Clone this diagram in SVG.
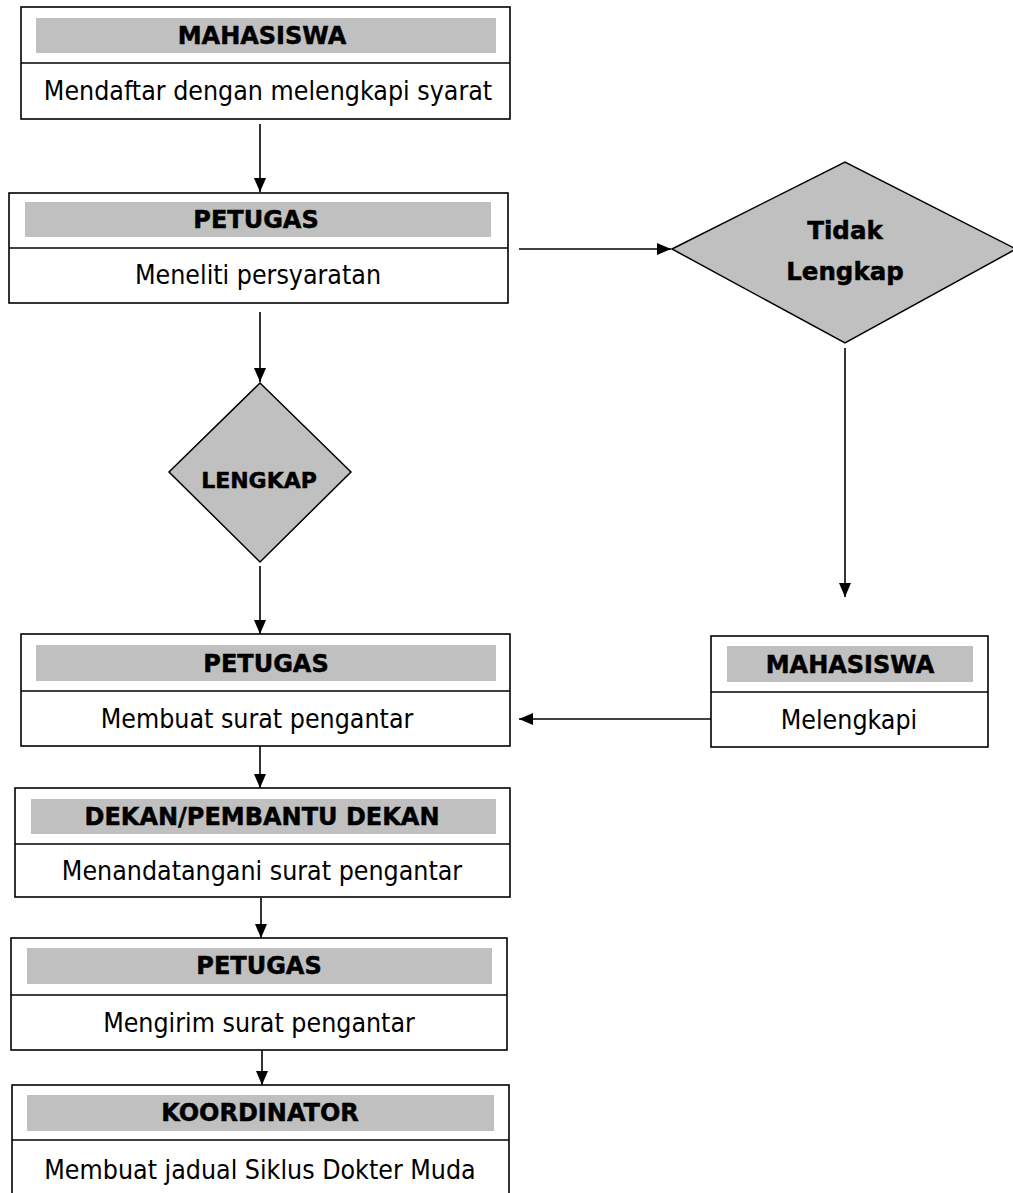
<svg xmlns="http://www.w3.org/2000/svg" width="1013" height="1193" viewBox="0 0 1013 1193">
<style>
.box{fill:#fff;stroke:#000;stroke-width:1.6}
.div{stroke:#000;stroke-width:1.6}
.bar{fill:#c0c0c0}
.dia{fill:#c0c0c0;stroke:#000;stroke-width:1.5}
.h{font-family:"DejaVu Sans","Liberation Sans",sans-serif;font-weight:bold;font-size:24px;text-anchor:middle;fill:#000;stroke:#000;stroke-width:0.5}
.t{font-family:"DejaVu Sans Condensed","DejaVu Sans","Liberation Sans",sans-serif;font-stretch:condensed;font-size:26.5px;text-anchor:middle;fill:#000}
.c{stroke:#000;stroke-width:1.6;fill:none;marker-end:url(#ah)}
</style>
<defs>
<marker id="ah" markerUnits="userSpaceOnUse" markerWidth="14" markerHeight="12" viewBox="0 0 14 12" refX="14" refY="6" orient="auto">
<path d="M0,0 L14,6 L0,12 z" fill="#000"/>
</marker>
</defs>
<rect width="1013" height="1193" fill="#fff"/>
<g id="connectors">
<line class="c" x1="260" y1="124" x2="260" y2="192"/>
<line class="c" x1="519" y1="249" x2="671" y2="249"/>
<line class="c" x1="260" y1="312" x2="260" y2="382"/>
<line class="c" x1="260" y1="566" x2="260" y2="634"/>
<line class="c" x1="845" y1="348" x2="845" y2="597"/>
<line class="c" x1="711" y1="719" x2="519" y2="719"/>
<line class="c" x1="260" y1="746" x2="260" y2="788"/>
<line class="c" x1="261" y1="898" x2="261" y2="938"/>
<line class="c" x1="262" y1="1048" x2="262" y2="1085"/>
</g>
<g id="n1">
<rect class="box" x="21" y="7" width="489" height="112"/>
<line class="div" x1="21" y1="63" x2="510" y2="63"/>
<rect class="bar" x="36" y="18" width="460" height="35"/>
<text class="h" x="262" y="44">MAHASISWA</text>
<text class="t" x="268" y="100">Mendaftar dengan melengkapi syarat</text>
</g>
<g id="n2">
<rect class="box" x="9" y="193" width="499" height="110"/>
<line class="div" x1="9" y1="248" x2="508" y2="248"/>
<rect class="bar" x="25" y="202" width="466" height="35"/>
<text class="h" x="256" y="228">PETUGAS</text>
<text class="t" x="258" y="284">Meneliti persyaratan</text>
</g>
<g id="d1">
<polygon class="dia" points="672,249 845,162 1016,249 845,343"/>
<text class="h" x="845" y="239" style="font-size:24.5px">Tidak</text>
<text class="h" x="845" y="280" style="font-size:24.5px">Lengkap</text>
</g>
<g id="d2">
<polygon class="dia" points="260,383 351,472 260,562 169,472"/>
<text class="h" x="259" y="488" style="font-size:22px">LENGKAP</text>
</g>
<g id="n3">
<rect class="box" x="21" y="634" width="489" height="112"/>
<line class="div" x1="21" y1="691" x2="510" y2="691"/>
<rect class="bar" x="36" y="645" width="460" height="36"/>
<text class="h" x="266" y="672">PETUGAS</text>
<text class="t" x="257" y="728">Membuat surat pengantar</text>
</g>
<g id="n4">
<rect class="box" x="711" y="636" width="277" height="111"/>
<line class="div" x1="711" y1="692" x2="988" y2="692"/>
<rect class="bar" x="727" y="646" width="246" height="36"/>
<text class="h" x="850" y="673">MAHASISWA</text>
<text class="t" x="849" y="729">Melengkapi</text>
</g>
<g id="n5">
<rect class="box" x="15" y="788" width="495" height="109"/>
<line class="div" x1="15" y1="844" x2="510" y2="844"/>
<rect class="bar" x="31" y="799" width="465" height="35"/>
<text class="h" x="262" y="825">DEKAN/PEMBANTU DEKAN</text>
<text class="t" x="262" y="880">Menandatangani surat pengantar</text>
</g>
<g id="n6">
<rect class="box" x="11" y="938" width="496" height="112"/>
<line class="div" x1="11" y1="995" x2="507" y2="995"/>
<rect class="bar" x="27" y="948" width="465" height="36"/>
<text class="h" x="259" y="974">PETUGAS</text>
<text class="t" x="259" y="1032">Mengirim surat pengantar</text>
</g>
<g id="n7">
<rect class="box" x="12" y="1085" width="497" height="120"/>
<line class="div" x1="12" y1="1140" x2="509" y2="1140"/>
<rect class="bar" x="27" y="1095" width="467" height="36"/>
<text class="h" x="260" y="1121">KOORDINATOR</text>
<text class="t" x="260" y="1179">Membuat jadual Siklus Dokter Muda</text>
</g>
</svg>
